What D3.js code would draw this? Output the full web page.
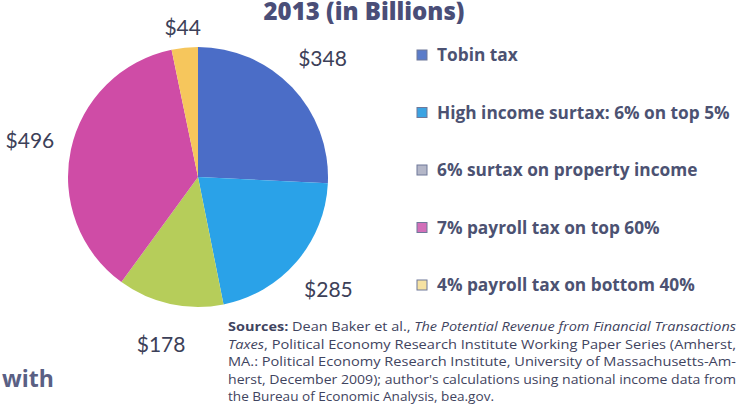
<!DOCTYPE html>
<html>
<head>
<meta charset="utf-8">
<script src="https://cdn.jsdelivr.net/npm/d3@7"></script>
<style>
  body { margin: 0; background: #fff; }
  svg { display: block; }
</style>
</head>
<body>
<svg id="chart" width="741" height="408"></svg>
<script>
  // revenue by tax, 2013, billions of dollars
  var taxes = [
    "Tobin tax",
    "High income surtax: 6% on top 5%",
    "6% surtax on property income",
    "7% payroll tax on top 60%",
    "4% payroll tax on bottom 40%"
  ];
  var revenue = [348, 285, 178, 496, 44];
  var title = "2013 (in Billions)";
  var sourceLines = [
    [["Sources:", "b"], [" Dean Baker et al., ", ""], ["The Potential Revenue from Financial Transactions", "i"]],
    [["Taxes", "i"], [", Political Economy Research Institute Working Paper Series (Amherst,", ""]],
    [["MA.: Political Economy Research Institute, University of Massachusetts-Am-", ""]],
    [["herst, December 2009); author's calculations using national income data from", ""]],
    [["the Bureau of Economic Analysis, bea.gov.", ""]]
  ];

  var sliceColors = ["#4b6dc7", "#2aa2e8", "#b6cd5a", "#cf4ca6", "#f6c65c"];
  var swatchColors = ["#5b7cc9", "#3ba3e2", "#b4b7c8", "#d26fb9", "#f6e2a2"];

  var svg = d3.select("#chart");
  var cx = 198, cy = 177, r = 130;

  svg.append("rect").attr("width", 741).attr("height", 408).attr("fill", "#fff");

  var data = taxes.map(function(t, i) { return {tax: t, value: revenue[i]}; });
  var total = d3.sum(revenue);

  var pie = d3.pie().sort(null).value(function(d) { return d.value; });
  var arc = d3.arc().innerRadius(0).outerRadius(r);
  var arcs = pie(data);

  var g = svg.append("g").attr("transform", "translate(" + cx + "," + cy + ")");

  g.selectAll("path")
    .data(arcs)
    .enter().append("path")
    .attr("d", arc)
    .attr("fill", function(d, i) { return sliceColors[i]; });

  // value labels outside the pie, small slices sit closer
  g.selectAll("text.val")
    .data(arcs)
    .enter().append("text")
    .attr("class", "val")
    .attr("transform", function(d) {
      var lr = d.value / total < 0.05 ? 150 : 172;
      var c = d3.arc().innerRadius(lr).outerRadius(lr).centroid(d);
      return "translate(" + c[0] + "," + c[1] + ")";
    })
    .attr("text-anchor", "middle")
    .attr("dy", "0.35em")
    .attr("font-family", "Lato, sans-serif")
    .attr("font-size", 21)
    .attr("fill", "#3c4058")
    .text(function(d) { return "$" + d.value; });

  svg.append("text")
    .attr("x", 364)
    .attr("y", 20)
    .attr("text-anchor", "middle")
    .attr("font-family", "'Open Sans', sans-serif")
    .attr("font-weight", 800)
    .attr("font-size", 24)
    .attr("fill", "#4a4e78")
    .text(title);

  var y0 = 55, step = 57.5;
  var legend = svg.append("g")
    .selectAll("g")
    .data(taxes)
    .enter().append("g")
    .attr("transform", function(d, i) { return "translate(417," + (y0 + i * step) + ")"; });

  legend.append("rect")
    .attr("x", 0)
    .attr("y", -5)
    .attr("width", 10)
    .attr("height", 10)
    .attr("fill", function(d, i) { return swatchColors[i]; })
    .attr("stroke", "#6f7899")
    .attr("stroke-width", 1);

  legend.append("text")
    .attr("x", 20)
    .attr("dy", "0.35em")
    .attr("font-family", "'Open Sans', sans-serif")
    .attr("font-weight", "bold")
    .attr("font-size", 17.3)
    .attr("fill", "#4c5272")
    .text(function(d) { return d; });

  var src = svg.append("g").attr("font-family", "'Open Sans', sans-serif").attr("font-size", 12.5).attr("fill", "#3f4460");
  sourceLines.forEach(function(line, i) {
    var t = src.append("text")
      .attr("x", 228)
      .attr("y", 331 + i * 17.5)
      .attr("textLength", i === 4 ? 266 : 508)
      .attr("lengthAdjust", "spacingAndGlyphs");
    line.forEach(function(part) {
      t.append("tspan")
        .attr("font-weight", part[1] === "b" ? "bold" : null)
        .attr("font-style", part[1] === "i" ? "italic" : null)
        .text(part[0]);
    });
  });

  svg.append("text")
    .attr("x", 2)
    .attr("y", 387)
    .attr("font-family", "'Open Sans', sans-serif")
    .attr("font-weight", "bold")
    .attr("font-size", 23)
    .attr("fill", "#5a6084")
    .text("with");
</script>
</body>
</html>
